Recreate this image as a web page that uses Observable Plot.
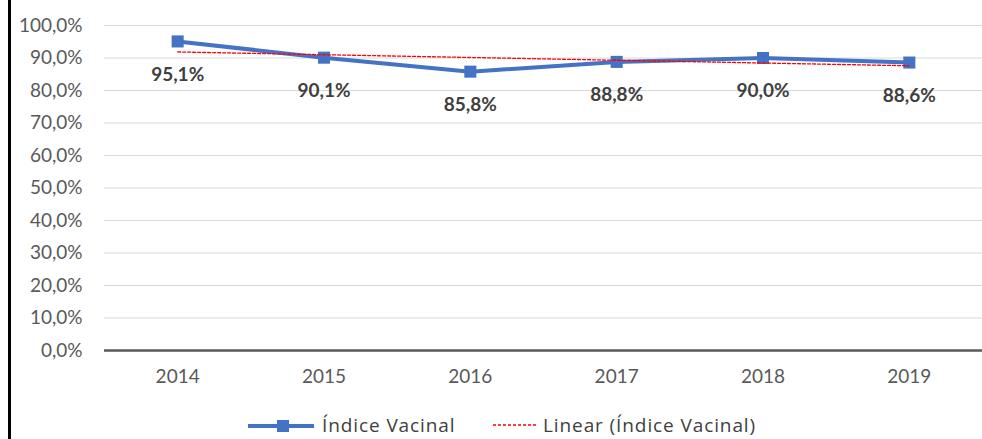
<!DOCTYPE html>
<html>
<head>
<meta charset="utf-8">
<script src="https://cdn.jsdelivr.net/npm/d3@7"></script>
<script src="https://cdn.jsdelivr.net/npm/@observablehq/plot@0.6"></script>
<style>
  html, body { margin: 0; padding: 0; background: #fff; }
  #wrap { position: relative; width: 982px; height: 439px; overflow: hidden; font-family: Lato, "Open Sans", sans-serif; }
  #border { position: absolute; left: 8px; top: 0; width: 3px; height: 439px; background: #000; }
  .item { position: absolute; top: 410px; height: 30px; display: flex; align-items: center; font-family: "Open Sans", sans-serif; font-size: 19px; letter-spacing: 0.9px; color: #404040; white-space: nowrap; }
  .item svg { display: block; }
</style>
</head>
<body>
<div id="wrap">
  <div id="chart"></div>
  <div id="border"></div>
  <div class="item" style="left:248px">
    <svg width="66" height="16"><line x1="0" x2="66" y1="9" y2="9" stroke="#4472C4" stroke-width="4"/><rect x="29" y="3" width="12" height="12" fill="#4472C4"/></svg>
    <span style="margin-left:8px">Índice Vacinal</span>
  </div>
  <div class="item" style="left:493px">
    <svg width="44" height="16"><line x1="0" x2="44" y1="8" y2="8" stroke="#ff0000" stroke-width="1.3" stroke-dasharray="3,2"/></svg>
    <span style="margin-left:6px">Linear (Índice Vacinal)</span>
  </div>
</div>
<script>
const years = [2014, 2015, 2016, 2017, 2018, 2019];
const values = [0.951, 0.901, 0.858, 0.888, 0.900, 0.886];
const labels = ["95,1%", "90,1%", "85,8%", "88,8%", "90,0%", "88,6%"];
const yTicks = [0, 0.1, 0.2, 0.3, 0.4, 0.5, 0.6, 0.7, 0.8, 0.9, 1.0];

const data = years.map((y, i) => ({year: y, value: values[i], label: labels[i]}));
const fmtPct = d => (d * 100).toFixed(1).replace(".", ",") + "%";

const chart = Plot.plot({
  width: 982,
  height: 395,
  marginLeft: 104,
  marginRight: 0,
  marginTop: 25,
  marginBottom: 45,
  style: {fontFamily: "Lato, 'Open Sans', sans-serif", fontSize: "19px", color: "#595959", background: "transparent"},
  x: {type: "linear", domain: [2013.5, 2019.5], ticks: years, tickFormat: d => String(d), tickSize: 0, tickPadding: 19, label: null},
  y: {domain: [0, 1], ticks: yTicks, tickFormat: fmtPct, tickSize: 0, tickPadding: 22, label: null},
  marks: [
    Plot.ruleY(yTicks.filter(d => d > 0), {stroke: "#d9d9d9", strokeWidth: 1}),
    Plot.ruleY([0], {stroke: "#595959", strokeWidth: 2.5}),
    Plot.line(data, {x: "year", y: "value", stroke: "#4472C4", strokeWidth: 4}),
    Plot.dot(data, {x: "year", y: "value", symbol: "square", r: 6.8, fill: "#4472C4", stroke: "none"}),
    Plot.linearRegressionY(data, {x: "year", y: "value", ci: 0, stroke: "#ff0000", strokeWidth: 1.3, strokeDasharray: "3,2"}),
    Plot.text(data, {x: "year", y: "value", text: "label", dy: 33, fontWeight: "bold", fontSize: 19, fill: "#404040"})
  ]
});
document.getElementById("chart").appendChild(chart);
</script>
</body>
</html>
